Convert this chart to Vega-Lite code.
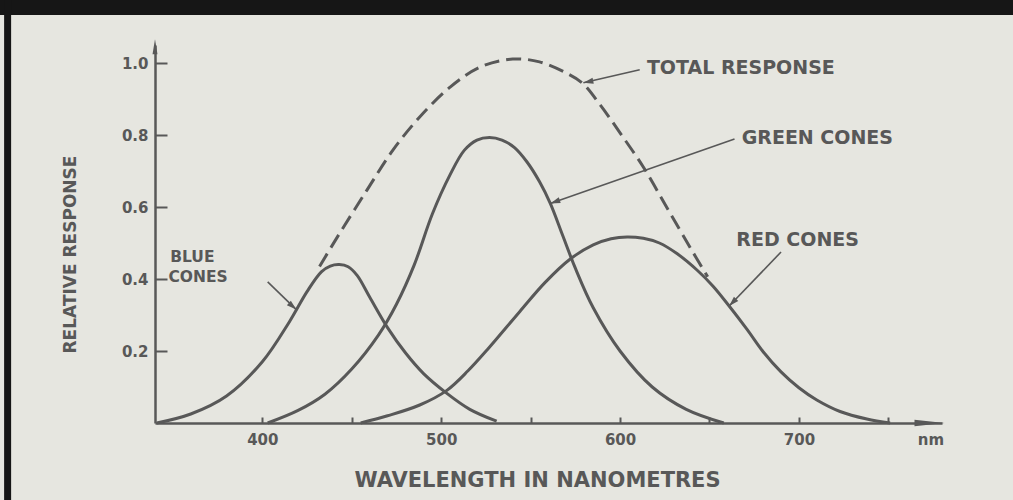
{
  "$schema": "https://vega.github.io/schema/vega-lite/v6.json",
  "autosize": {"type": "none"},
  "width": 787,
  "height": 378,
  "padding": {"left": 155, "top": 45, "right": 71, "bottom": 77},
  "background": "#e6e6e0",
  "config": {"view": {"stroke": null}, "font": "DejaVu Sans"},
  "datasets": {
    "curves": [
      {"series": "Blue cones", "nm": 341, "r": 0},
      {"series": "Blue cones", "nm": 360, "r": 0.025},
      {"series": "Blue cones", "nm": 380, "r": 0.075},
      {"series": "Blue cones", "nm": 400, "r": 0.17},
      {"series": "Blue cones", "nm": 415, "r": 0.28},
      {"series": "Blue cones", "nm": 425, "r": 0.365},
      {"series": "Blue cones", "nm": 433, "r": 0.42},
      {"series": "Blue cones", "nm": 438, "r": 0.436},
      {"series": "Blue cones", "nm": 443, "r": 0.44},
      {"series": "Blue cones", "nm": 448, "r": 0.434},
      {"series": "Blue cones", "nm": 453, "r": 0.41},
      {"series": "Blue cones", "nm": 460, "r": 0.35},
      {"series": "Blue cones", "nm": 470, "r": 0.265},
      {"series": "Blue cones", "nm": 480, "r": 0.195},
      {"series": "Blue cones", "nm": 490, "r": 0.138},
      {"series": "Blue cones", "nm": 503, "r": 0.083},
      {"series": "Blue cones", "nm": 516, "r": 0.038},
      {"series": "Blue cones", "nm": 531, "r": 0.005},
      {"series": "Green cones", "nm": 403, "r": 0},
      {"series": "Green cones", "nm": 420, "r": 0.035},
      {"series": "Green cones", "nm": 435, "r": 0.08},
      {"series": "Green cones", "nm": 450, "r": 0.15},
      {"series": "Green cones", "nm": 465, "r": 0.245},
      {"series": "Green cones", "nm": 475, "r": 0.33},
      {"series": "Green cones", "nm": 485, "r": 0.44},
      {"series": "Green cones", "nm": 495, "r": 0.58},
      {"series": "Green cones", "nm": 505, "r": 0.69},
      {"series": "Green cones", "nm": 513, "r": 0.758},
      {"series": "Green cones", "nm": 520, "r": 0.786},
      {"series": "Green cones", "nm": 527, "r": 0.793},
      {"series": "Green cones", "nm": 534, "r": 0.786},
      {"series": "Green cones", "nm": 541, "r": 0.765},
      {"series": "Green cones", "nm": 548, "r": 0.725},
      {"series": "Green cones", "nm": 555, "r": 0.67},
      {"series": "Green cones", "nm": 561, "r": 0.61},
      {"series": "Green cones", "nm": 568, "r": 0.52},
      {"series": "Green cones", "nm": 575, "r": 0.43},
      {"series": "Green cones", "nm": 585, "r": 0.32},
      {"series": "Green cones", "nm": 600, "r": 0.2},
      {"series": "Green cones", "nm": 618, "r": 0.1},
      {"series": "Green cones", "nm": 637, "r": 0.038},
      {"series": "Green cones", "nm": 658, "r": 0},
      {"series": "Red cones", "nm": 455, "r": 0},
      {"series": "Red cones", "nm": 470, "r": 0.02},
      {"series": "Red cones", "nm": 488, "r": 0.05},
      {"series": "Red cones", "nm": 503, "r": 0.09},
      {"series": "Red cones", "nm": 515, "r": 0.145},
      {"series": "Red cones", "nm": 526, "r": 0.205},
      {"series": "Red cones", "nm": 544, "r": 0.31},
      {"series": "Red cones", "nm": 558, "r": 0.39},
      {"series": "Red cones", "nm": 572, "r": 0.455},
      {"series": "Red cones", "nm": 585, "r": 0.495},
      {"series": "Red cones", "nm": 595, "r": 0.512},
      {"series": "Red cones", "nm": 604, "r": 0.517},
      {"series": "Red cones", "nm": 613, "r": 0.513},
      {"series": "Red cones", "nm": 622, "r": 0.5},
      {"series": "Red cones", "nm": 632, "r": 0.47},
      {"series": "Red cones", "nm": 643, "r": 0.425},
      {"series": "Red cones", "nm": 652, "r": 0.38},
      {"series": "Red cones", "nm": 661, "r": 0.325},
      {"series": "Red cones", "nm": 671, "r": 0.26},
      {"series": "Red cones", "nm": 680, "r": 0.198},
      {"series": "Red cones", "nm": 690, "r": 0.142},
      {"series": "Red cones", "nm": 700, "r": 0.098},
      {"series": "Red cones", "nm": 710, "r": 0.064},
      {"series": "Red cones", "nm": 723, "r": 0.032},
      {"series": "Red cones", "nm": 738, "r": 0.011},
      {"series": "Red cones", "nm": 751, "r": 0},
      {"series": "Total response", "nm": 432, "r": 0.435},
      {"series": "Total response", "nm": 442, "r": 0.517},
      {"series": "Total response", "nm": 458.5, "r": 0.647},
      {"series": "Total response", "nm": 473, "r": 0.758},
      {"series": "Total response", "nm": 488, "r": 0.85},
      {"series": "Total response", "nm": 505, "r": 0.933},
      {"series": "Total response", "nm": 522, "r": 0.989},
      {"series": "Total response", "nm": 540, "r": 1.011},
      {"series": "Total response", "nm": 555, "r": 1.003},
      {"series": "Total response", "nm": 570, "r": 0.972},
      {"series": "Total response", "nm": 579, "r": 0.944},
      {"series": "Total response", "nm": 589, "r": 0.883},
      {"series": "Total response", "nm": 600, "r": 0.806},
      {"series": "Total response", "nm": 613, "r": 0.711},
      {"series": "Total response", "nm": 626, "r": 0.6},
      {"series": "Total response", "nm": 639, "r": 0.489},
      {"series": "Total response", "nm": 649, "r": 0.406}
    ],
    "arrows": [
      {"label": "total", "x": 611, "y": 0.981, "x2": 579.5, "y2": 0.945},
      {"label": "green", "x": 664, "y": 0.789, "x2": 561, "y2": 0.61},
      {"label": "red", "x": 690, "y": 0.475, "x2": 661, "y2": 0.325},
      {"label": "blue", "x": 403, "y": 0.392, "x2": 419, "y2": 0.315}
    ],
    "labels": [
      {"text": "TOTAL RESPONSE", "nm": 615, "r": 0.986, "small": false},
      {"text": "GREEN CONES", "nm": 668, "r": 0.792, "small": false},
      {"text": "RED CONES", "nm": 665, "r": 0.508, "small": false},
      {"text": "BLUE", "nm": 348.5, "r": 0.46, "small": true},
      {"text": "CONES", "nm": 347.5, "r": 0.405, "small": true}
    ],
    "one": [{}]
  },
  "layer": [
    {
      "data": {"name": "one"},
      "mark": {"type": "rule", "color": "#161616", "strokeWidth": 15},
      "encoding": {
        "x": {"datum": 253, "type": "quantitative"},
        "x2": {"datum": 820},
        "y": {"datum": 1.154, "type": "quantitative"}
      }
    },
    {
      "data": {"name": "one"},
      "mark": {"type": "rule", "color": "#161616", "strokeWidth": 7},
      "encoding": {
        "x": {"datum": 257.6, "type": "quantitative"},
        "y": {"datum": 1.18, "type": "quantitative"},
        "y2": {"datum": -0.22}
      }
    },
    {
      "data": {"name": "curves"},
      "transform": [{"filter": "datum.series !== 'Total response'"}],
      "mark": {"type": "line", "interpolate": "catmull-rom", "color": "#585858", "strokeWidth": 3},
      "encoding": {
        "x": {
          "field": "nm", "type": "quantitative",
          "scale": {"domain": [340, 780], "nice": false, "zero": false},
          "axis": {
            "title": "WAVELENGTH IN NANOMETRES",
            "values": [400, 450, 500, 550, 600, 650, 700, 750],
            "format": "d",
            "labelExpr": "datum.value % 100 === 0 ? datum.label : ''",
            "labelOverlap": false,
            "labelFlush": false,
            "grid": false,
            "tickSize": -6, "tickWidth": 2, "tickColor": "#585858",
            "domainColor": "#585858", "domainWidth": 2.5,
            "labelFont": "DejaVu Sans", "labelFontWeight": "bold", "labelFontSize": 15,
            "labelColor": "#585858", "labelPadding": 15,
            "titleFont": "DejaVu Sans", "titleFontWeight": "bold", "titleFontSize": 21,
            "titleColor": "#585858", "titleX": 382, "titleY": 57,
            "titleBaseline": "middle", "titleAlign": "center"
          }
        },
        "y": {
          "field": "r", "type": "quantitative",
          "scale": {"domain": [0, 1.05], "nice": false},
          "axis": {
            "title": "RELATIVE RESPONSE",
            "values": [0.2, 0.4, 0.6, 0.8, 1.0],
            "format": ".1f",
            "labelOverlap": false,
            "labelFlush": false,
            "grid": false,
            "tickSize": -12, "tickWidth": 2, "tickColor": "#585858",
            "domainColor": "#585858", "domainWidth": 2.5,
            "labelFont": "DejaVu Sans", "labelFontWeight": "bold", "labelFontSize": 15,
            "labelColor": "#585858", "labelPadding": 19,
            "titleFont": "DejaVu Sans", "titleFontWeight": "bold", "titleFontSize": 17,
            "titleColor": "#585858", "titleX": -85, "titleY": 209,
            "titleBaseline": "middle", "titleAlign": "center", "titleAngle": -90
          }
        },
        "detail": {"field": "series"}
      }
    },
    {
      "data": {"name": "curves"},
      "transform": [{"filter": "datum.series === 'Total response'"}],
      "mark": {"type": "line", "interpolate": "catmull-rom", "color": "#585858", "strokeWidth": 3, "strokeDash": [15, 7]},
      "encoding": {
        "x": {"field": "nm", "type": "quantitative"},
        "y": {"field": "r", "type": "quantitative"}
      }
    },
    {
      "data": {"name": "arrows"},
      "mark": {"type": "rule", "color": "#585858", "strokeWidth": 1.6},
      "encoding": {
        "x": {"field": "x", "type": "quantitative"},
        "y": {"field": "y", "type": "quantitative"},
        "x2": {"field": "x2"},
        "y2": {"field": "y2"}
      }
    },
    {
      "data": {"name": "arrows"},
      "transform": [{"filter": "datum.label === 'total'"}],
      "mark": {"type": "point", "shape": "M0,0L-1,-0.3L-1,0.3Z", "filled": true, "opacity": 1, "size": 400, "angle": 168, "color": "#585858"},
      "encoding": {"x": {"field": "x2", "type": "quantitative"}, "y": {"field": "y2", "type": "quantitative"}}
    },
    {
      "data": {"name": "arrows"},
      "transform": [{"filter": "datum.label === 'green'"}],
      "mark": {"type": "point", "shape": "M0,0L-1,-0.3L-1,0.3Z", "filled": true, "opacity": 1, "size": 400, "angle": 161, "color": "#585858"},
      "encoding": {"x": {"field": "x2", "type": "quantitative"}, "y": {"field": "y2", "type": "quantitative"}}
    },
    {
      "data": {"name": "arrows"},
      "transform": [{"filter": "datum.label === 'red'"}],
      "mark": {"type": "point", "shape": "M0,0L-1,-0.3L-1,0.3Z", "filled": true, "opacity": 1, "size": 400, "angle": 134, "color": "#585858"},
      "encoding": {"x": {"field": "x2", "type": "quantitative"}, "y": {"field": "y2", "type": "quantitative"}}
    },
    {
      "data": {"name": "arrows"},
      "transform": [{"filter": "datum.label === 'blue'"}],
      "mark": {"type": "point", "shape": "M0,0L-1,-0.3L-1,0.3Z", "filled": true, "opacity": 1, "size": 400, "angle": 42, "color": "#585858"},
      "encoding": {"x": {"field": "x2", "type": "quantitative"}, "y": {"field": "y2", "type": "quantitative"}}
    },
    {
      "data": {"name": "one"},
      "mark": {"type": "point", "shape": "M-0.33,1L0,-1L0.33,1Z", "filled": true, "opacity": 1, "size": 225, "color": "#585858"},
      "encoding": {"x": {"datum": 340, "type": "quantitative"}, "y": {"datum": 1.045, "type": "quantitative"}}
    },
    {
      "data": {"name": "one"},
      "mark": {"type": "point", "shape": "M-1,-0.22L1,0L-1,0.22Z", "filled": true, "opacity": 1, "size": 900, "color": "#585858"},
      "encoding": {"x": {"datum": 773, "type": "quantitative"}, "y": {"datum": 0, "type": "quantitative"}}
    },
    {
      "data": {"name": "labels"},
      "mark": {"type": "text", "align": "left", "baseline": "middle", "font": "DejaVu Sans", "fontWeight": "bold", "color": "#585858"},
      "encoding": {
        "x": {"field": "nm", "type": "quantitative"},
        "y": {"field": "r", "type": "quantitative"},
        "text": {"field": "text"},
        "size": {"condition": {"test": "datum.small", "value": 15.5}, "value": 19}
      }
    },
    {
      "data": {"name": "one"},
      "mark": {"type": "text", "align": "left", "baseline": "middle", "font": "DejaVu Sans", "fontWeight": "bold", "fontSize": 15, "color": "#585858", "text": "nm"},
      "encoding": {"x": {"datum": 766.5, "type": "quantitative"}, "y": {"datum": -0.047, "type": "quantitative"}}
    }
  ]
}
